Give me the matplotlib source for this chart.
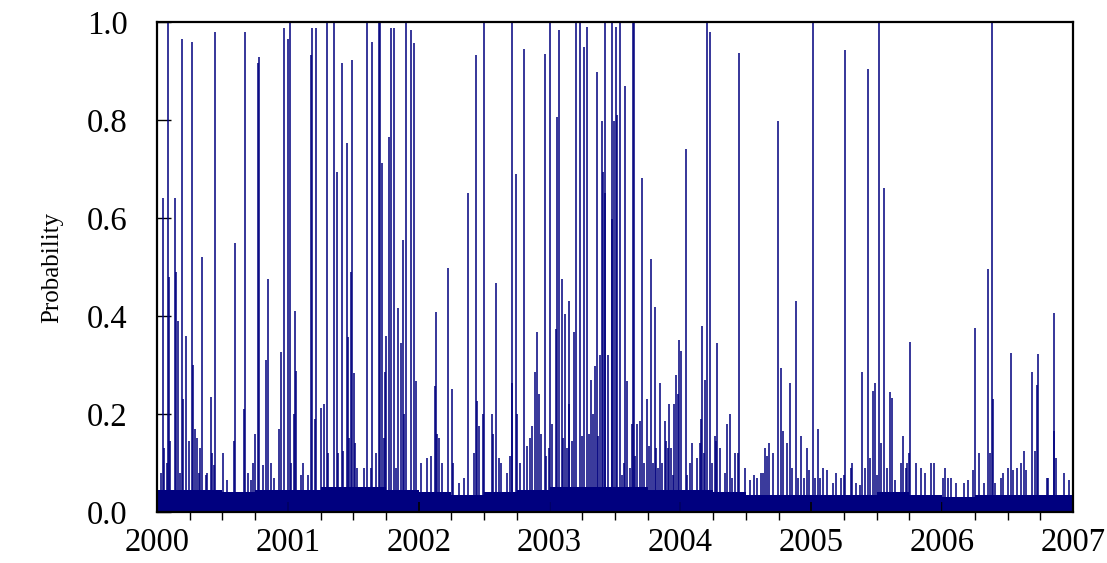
"""
daily probability spikes, 2000-2007
"""
import numpy as np
import matplotlib
matplotlib.use('Agg')
from matplotlib import pyplot as plt
from matplotlib.ticker import MultipleLocator, FixedLocator, FormatStrFormatter

# spike dates (fractional year) and probabilities
spike_year = [
    2000.028, 2000.046, 2000.053, 2000.074, 2000.082, 2000.094, 2000.102, 2000.138, 2000.145, 2000.160,
    2000.178, 2000.193, 2000.201, 2000.219, 2000.242, 2000.267, 2000.275, 2000.290, 2000.303, 2000.319,
    2000.331, 2000.344, 2000.372, 2000.384, 2000.410, 2000.423, 2000.433, 2000.446, 2000.507, 2000.537,
    2000.588, 2000.598, 2000.663, 2000.670, 2000.693, 2000.716, 2000.731, 2000.751, 2000.770, 2000.777,
    2000.812, 2000.831, 2000.851, 2000.869, 2000.892, 2000.930, 2000.950, 2000.968,
    2001.003, 2001.016, 2001.026, 2001.047, 2001.057, 2001.065, 2001.098, 2001.116, 2001.154, 2001.175,
    2001.187, 2001.210, 2001.217, 2001.251, 2001.274, 2001.299, 2001.307, 2001.353, 2001.376, 2001.383,
    2001.411, 2001.419, 2001.450, 2001.457, 2001.465, 2001.480, 2001.488, 2001.503, 2001.513, 2001.531,
    2001.582, 2001.603, 2001.633, 2001.641, 2001.671, 2001.697, 2001.706, 2001.719, 2001.737, 2001.740,
    2001.752, 2001.771, 2001.788, 2001.809, 2001.829, 2001.842, 2001.862, 2001.878, 2001.890, 2001.905,
    2001.939, 2001.964, 2001.977,
    2002.015, 2002.061, 2002.092, 2002.122, 2002.130, 2002.140, 2002.155, 2002.178, 2002.224, 2002.252,
    2002.260, 2002.308, 2002.346, 2002.377, 2002.425, 2002.438, 2002.445, 2002.458, 2002.494, 2002.501,
    2002.558, 2002.565, 2002.593, 2002.611, 2002.629, 2002.677, 2002.698, 2002.711, 2002.715, 2002.741,
    2002.751, 2002.774, 2002.805, 2002.828, 2002.848, 2002.868, 2002.889, 2002.902, 2002.922, 2002.937,
    2002.963, 2002.975, 2002.998,
    2003.006, 2003.019, 2003.049, 2003.057, 2003.072, 2003.093, 2003.103, 2003.118, 2003.133, 2003.146,
    2003.151, 2003.174, 2003.189, 2003.202, 2003.230, 2003.248, 2003.263, 2003.286, 2003.304, 2003.317,
    2003.332, 2003.345, 2003.360, 2003.372, 2003.388, 2003.401, 2003.408, 2003.421, 2003.426, 2003.444,
    2003.475, 2003.479, 2003.495, 2003.510, 2003.518, 2003.536, 2003.551, 2003.571, 2003.576, 2003.592,
    2003.615, 2003.628, 2003.635, 2003.645, 2003.653, 2003.668, 2003.689, 2003.704, 2003.722, 2003.747,
    2003.758, 2003.777, 2003.788, 2003.803, 2003.816, 2003.831, 2003.844, 2003.857, 2003.882, 2003.892,
    2003.903, 2003.913, 2003.926, 2003.941, 2003.953, 2003.964, 2003.979, 2003.989,
    2004.002, 2004.040, 2004.053, 2004.073, 2004.089, 2004.127, 2004.152, 2004.160, 2004.167, 2004.183,
    2004.190, 2004.205, 2004.224, 2004.239, 2004.262, 2004.272, 2004.282, 2004.300, 2004.341, 2004.358,
    2004.377, 2004.394, 2004.415, 2004.438, 2004.450, 2004.494, 2004.529, 2004.565, 2004.583, 2004.614,
    2004.629, 2004.646, 2004.664, 2004.679, 2004.705, 2004.743, 2004.766, 2004.786, 2004.817, 2004.840,
    2004.853, 2004.881, 2004.896, 2004.919, 2004.942, 2004.965, 2004.985,
    2005.011, 2005.028, 2005.049, 2005.069, 2005.090, 2005.120, 2005.164, 2005.187, 2005.227, 2005.248,
    2005.255, 2005.301, 2005.311, 2005.339, 2005.372, 2005.390, 2005.413, 2005.436, 2005.449, 2005.474,
    2005.487, 2005.505, 2005.515, 2005.533, 2005.553, 2005.581, 2005.599, 2005.619, 2005.640, 2005.683,
    2005.699, 2005.722, 2005.729, 2005.749, 2005.757, 2005.800, 2005.836, 2005.869, 2005.913, 2005.938,
    2006.004, 2006.024, 2006.043, 2006.070, 2006.104, 2006.165, 2006.200, 2006.236, 2006.253, 2006.279,
    2006.318, 2006.350, 2006.368, 2006.379, 2006.391, 2006.406, 2006.450, 2006.465, 2006.503, 2006.526,
    2006.542, 2006.570, 2006.605, 2006.623, 2006.639, 2006.685, 2006.707, 2006.723, 2006.735, 2006.799,
    2006.811, 2006.853, 2006.856, 2006.870, 2006.931, 2006.967,
]
spike_prob = [
    0.08, 0.64, 0.13, 0.10, 1.00, 0.48, 0.145, 0.64, 0.49, 0.39,
    0.08, 0.965, 0.23, 0.36, 0.145, 0.96, 0.30, 0.17, 0.15, 0.08,
    0.13, 0.52, 0.075, 0.08, 0.235, 0.12, 0.095, 0.98, 0.12, 0.065,
    0.145, 0.55, 0.21, 0.98, 0.08, 0.065, 0.10, 0.16, 0.917, 0.929,
    0.095, 0.31, 0.475, 0.10, 0.07, 0.17, 0.326, 0.988,
    0.965, 1.00, 0.10, 0.20, 0.41, 0.288, 0.075, 0.10, 0.075, 0.933,
    0.988, 0.19, 0.988, 0.212, 0.22, 1.00, 0.12, 1.00, 0.694, 0.12,
    0.916, 0.125, 0.754, 0.357, 0.15, 0.49, 0.922, 0.284, 0.14, 0.09,
    0.09, 0.997, 0.09, 0.96, 0.12, 1.00, 1.00, 0.713, 0.15, 0.286,
    0.36, 0.766, 0.988, 0.988, 0.09, 0.416, 0.345, 0.555, 0.20, 1.00,
    0.984, 0.958, 0.267,
    0.10, 0.11, 0.115, 0.258, 0.409, 0.16, 0.15, 0.10, 0.497, 0.25,
    0.10, 0.06, 0.07, 0.652, 0.12, 0.933, 0.226, 0.175, 0.20, 1.00,
    0.20, 0.16, 0.467, 0.11, 0.10, 0.08, 0.115, 1.00, 0.263, 0.689,
    0.20, 0.10, 0.945, 0.135, 0.15, 0.175, 0.286, 0.367, 0.24, 0.16,
    0.934, 0.115, 0.13,
    1.00, 0.18, 0.373, 0.807, 0.984, 0.475, 0.15, 0.405, 0.13, 0.22,
    0.431, 0.145, 0.367, 1.00, 1.00, 0.155, 0.948, 0.99, 0.16, 0.27,
    0.20, 0.297, 0.899, 0.155, 0.32, 0.797, 0.693, 1.00, 0.652, 0.32,
    0.598, 1.00, 0.797, 0.989, 0.81, 1.00, 0.075, 0.10, 0.869, 0.267,
    0.09, 0.18, 1.00, 1.00, 0.115, 0.18, 0.185, 0.682, 0.10, 0.23,
    0.135, 0.516, 0.10, 0.419, 0.13, 0.09, 0.263, 0.10, 0.185, 0.145,
    0.13, 0.22, 0.13, 0.075, 0.22, 0.28, 0.24, 0.351,
    0.329, 0.74, 0.075, 0.10, 0.14, 0.11, 0.14, 0.19, 0.38, 0.12,
    0.27, 1.00, 0.98, 0.10, 0.155, 0.145, 0.344, 0.13, 0.08, 0.18,
    0.20, 0.07, 0.12, 0.12, 0.936, 0.09, 0.065, 0.075, 0.07, 0.08,
    0.08, 0.13, 0.115, 0.14, 0.12, 0.797, 0.293, 0.165, 0.14, 0.263,
    0.09, 0.431, 0.07, 0.155, 0.07, 0.13, 0.085,
    1.00, 0.07, 0.17, 0.07, 0.09, 0.085, 0.06, 0.08, 0.07, 0.075,
    0.943, 0.09, 0.10, 0.06, 0.055, 0.286, 0.09, 0.905, 0.11, 0.247,
    0.263, 0.075, 1.00, 0.14, 0.662, 0.09, 0.245, 0.232, 0.065, 0.10,
    0.155, 0.09, 0.10, 0.12, 0.346, 0.10, 0.09, 0.08, 0.10, 0.10,
    0.07, 0.09, 0.07, 0.07, 0.06, 0.06, 0.065, 0.085, 0.375, 0.12,
    0.06, 0.495, 0.12, 1.00, 0.23, 0.06, 0.07, 0.08, 0.09, 0.324,
    0.085, 0.09, 0.10, 0.125, 0.085, 0.285, 0.125, 0.26, 0.322, 0.07,
    0.07, 0.407, 0.165, 0.11, 0.08, 0.065,
]

# typical background level of the dense daily bars, per quarter
quarter_start = [2000 + q / 4 for q in range(28)]
base_level = [
    0.045, 0.045, 0.040, 0.045,
    0.045, 0.050, 0.050, 0.045,
    0.040, 0.035, 0.040, 0.045,
    0.050, 0.050, 0.050, 0.045,
    0.045, 0.040, 0.035, 0.035,
    0.035, 0.035, 0.040, 0.035,
    0.030, 0.035, 0.035, 0.035,
]
year_ticks = list(range(2000, 2008))
prob_ticks = [0.0, 0.2, 0.4, 0.6, 0.8, 1.0]

navy = '#00007f'

fig = plt.figure(figsize=(11.07, 5.63), dpi=100)
ax = fig.add_axes([0.1418, 0.0906, 0.8275, 0.8703])

edges = quarter_start + [2007.0]
levels = base_level + [base_level[-1]]
ax.fill_between(edges, 0, levels, step='post', color=navy, linewidth=0)
ax.vlines(spike_year, 0, spike_prob, color=navy, linewidth=1.1)

ax.set_xlim(2000, 2007)
ax.set_ylim(0, 1.0)

ax.xaxis.set_major_locator(FixedLocator(year_ticks))
ax.xaxis.set_minor_locator(MultipleLocator(0.25))
ax.yaxis.set_major_locator(FixedLocator(prob_ticks))
ax.xaxis.set_major_formatter(FormatStrFormatter('%d'))
ax.yaxis.set_major_formatter(FormatStrFormatter('%.1f'))

ax.tick_params(axis='x', which='major', direction='in', length=7, width=1.2, pad=11,
               labelsize=23.5, top=False)
ax.tick_params(axis='x', which='minor', direction='out', length=6, width=1.0, top=False)
ax.tick_params(axis='y', which='major', direction='in', length=10, width=1.0, pad=21,
               labelsize=23.5, right=False)
for lbl in ax.get_xticklabels() + ax.get_yticklabels():
    lbl.set_family('Liberation Serif')

for sp in ax.spines.values():
    sp.set_linewidth(1.6)

ax.set_ylabel('Probability', family='Liberation Serif', fontsize=18, labelpad=17)

plt.savefig('out.png', dpi=100)
